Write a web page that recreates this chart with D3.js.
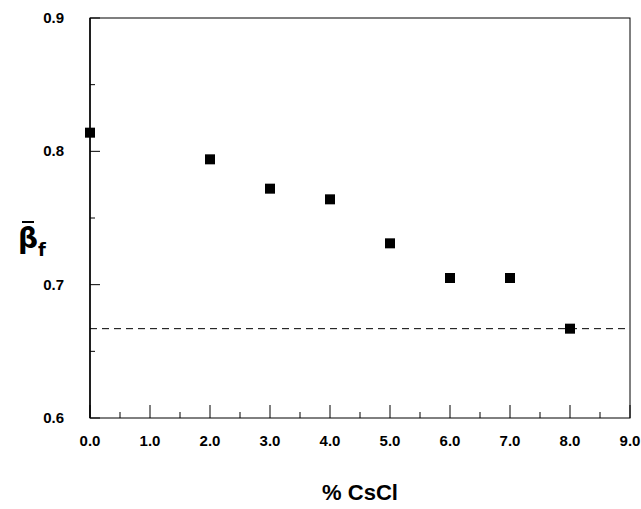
<!DOCTYPE html><html><head><script src="https://cdn.jsdelivr.net/npm/d3@7"></script>
<style>body{margin:0;background:#fff}</style></head><body><svg width="641" height="509"></svg>
<script>
const xs=[0,2,3,4,5,6,7,8];
const ys=[0.814,0.794,0.772,0.764,0.731,0.705,0.705,0.667];
const refLine=0.667;
const xTicks=[0,1,2,3,4,5,6,7,8,9];
const yTicks=[0.6,0.7,0.8,0.9];
const svg=d3.select("svg");
const x=d3.scaleLinear().domain([0,9]).range([90,630]);
const y=d3.scaleLinear().domain([0.6,0.9]).range([418,18]);
const g=svg.append("g").attr("stroke","#000").attr("fill","none");
g.append("rect").attr("x",90).attr("y",18).attr("width",540).attr("height",400).attr("stroke-width",1);
g.append("line").attr("x1",90).attr("x2",90).attr("y1",18).attr("y2",418).attr("stroke-width",1.5);
d3.range(0,9.01,0.5).forEach(v=>{const maj=Number.isInteger(v);
 g.append("line").attr("x1",x(v)).attr("x2",x(v)).attr("y1",418).attr("y2",418-(maj?13:6));});
d3.range(0.6,0.901,0.05).forEach(v=>{const maj=Math.abs(v*10-Math.round(v*10))<1e-6;
 g.append("line").attr("x1",90).attr("x2",90+(maj?10:5)).attr("y1",y(v)).attr("y2",y(v));});
const t=svg.append("g").attr("font-family","Liberation Sans, Arial").attr("font-weight","bold").attr("font-size",15);
xTicks.forEach(v=>t.append("text").attr("x",x(v)).attr("y",446).attr("text-anchor","middle").text(v.toFixed(1)));
yTicks.forEach(v=>t.append("text").attr("x",64).attr("y",y(v)+5).attr("text-anchor","end").text(v.toFixed(1)));
svg.append("line").attr("x1",90).attr("x2",630).attr("y1",y(refLine)).attr("y2",y(refLine)).attr("stroke","#000").attr("stroke-dasharray","7,5");
svg.selectAll("rect.p").data(xs).join("rect").attr("class","p").attr("x",(d)=>x(d)-5).attr("y",(d,i)=>y(ys[i])-5).attr("width",10).attr("height",10).attr("fill","#000");
svg.append("text").attr("x",360).attr("y",500).attr("text-anchor","middle").attr("font-family","Liberation Sans, Arial").attr("font-weight","bold").attr("font-size",22).text("%  CsCl");
const yl=svg.append("text").attr("x",18).attr("y",248).attr("font-family","DejaVu Sans").attr("font-size",28).attr("font-weight","bold");
yl.append("tspan").text("β");
yl.append("tspan").attr("font-size",18).attr("dy",8).text("f");
svg.append("line").attr("x1",22).attr("x2",34).attr("y1",222).attr("y2",222).attr("stroke","#000").attr("stroke-width",2);
</script></body></html>
